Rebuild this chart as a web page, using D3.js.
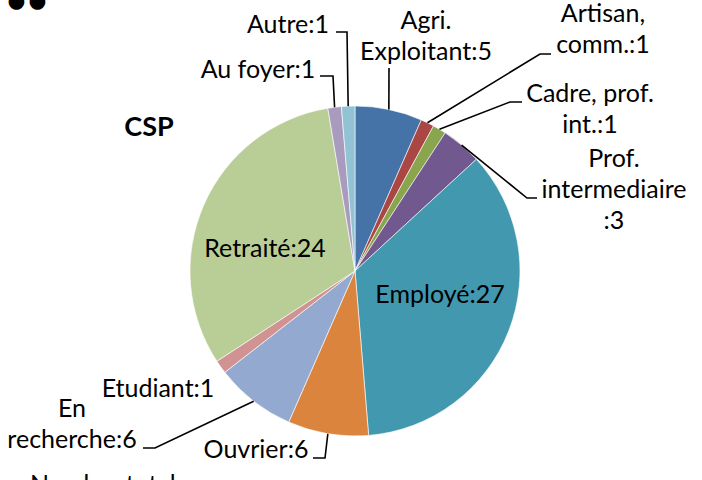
<!DOCTYPE html>
<html>
<head>
<meta charset="utf-8">
<script src="https://cdn.jsdelivr.net/npm/d3@7"></script>
<style>
  body { margin: 0; background: #fff; }
  svg text { font-family: Lato, "Open Sans", sans-serif; fill: #000; }
</style>
</head>
<body>
<script>
// données du graphique CSP
var categories = ["Agri. Exploitant", "Artisan, comm.", "Cadre, prof. int.", "Prof. intermediaire", "Employé",
                  "Ouvrier", "En recherche", "Etudiant", "Retraité", "Au foyer", "Autre"];
var values = [5, 1, 1, 3, 27, 6, 6, 1, 24, 1, 1];
// libellés coupés sur plusieurs lignes comme dans l'original
var labelLines = [["Agri.", "Exploitant"], ["Artisan,", "comm."], ["Cadre, prof.", "int."], ["Prof.", "intermediaire", ""],
                  ["Employé"], ["Ouvrier"], ["En", "recherche"], ["Etudiant"], ["Retraité"], ["Au foyer"], ["Autre"]];
var colors = ["#4572A7", "#AA4643", "#89A54E", "#71588F", "#4198AF", "#DB843D",
              "#93A9CF", "#D19392", "#B9CD96", "#A99BBD", "#92C3D4"];

var width = 702, height = 480;
var cx = 355, cy = 271, radius = 165;
var fontSize = 25, lineH = 31;

// position des étiquettes (x centre, ligne de base de la 1re ligne) + coude du trait de rappel
var layout = [
    {x: 426, y: 29, elbow: [[389, 68]]},
    {x: 603, y: 22, elbow: [[551, 54], [540, 54]]},
    {x: 590, y: 102, elbow: [[522, 102], [510, 102]]},
    {x: 614, y: 167, elbow: [[537, 198], [527, 198]]},
    {x: 440, y: 303, elbow: null},
    {x: 256, y: 458, elbow: [[313, 458], [325, 458]]},
    {x: 72, y: 417, elbow: [[143, 448], [155, 448]]},
    {x: 158, y: 397, elbow: null},
    {x: 265, y: 257, elbow: null},
    {x: 258, y: 78, elbow: [[320, 76], [333, 76]]},
    {x: 288, y: 33, elbow: [[336, 32], [347, 32]]}
];

var svg = d3.select('body').append('svg')
    .attr('width', width)
    .attr('height', height);

var pie = d3.pie().sort(null).value(function(d) { return d; });
var arcs = pie(values);

var arc = d3.arc().innerRadius(0).outerRadius(radius);
var edgeArc = d3.arc().innerRadius(radius).outerRadius(radius);

var g = svg.append('g').attr('transform', 'translate(' + cx + ',' + cy + ')');

g.selectAll('path.slice').data(arcs)
    .enter().append('path')
    .attr('class', 'slice')
    .attr('d', arc)
    .attr('fill', function(d, i) { return colors[i]; })
    .attr('stroke', '#ffffff')
    .attr('stroke-width', 0.6);

// traits de rappel
arcs.forEach(function(d, i) {
    var L = layout[i];
    if (!L.elbow) return;
    var c = edgeArc.centroid(d);
    var pts = L.elbow.concat([[c[0] + cx, c[1] + cy]]);
    svg.append('path')
        .attr('d', d3.line()(pts))
        .attr('fill', 'none')
        .attr('stroke', '#000')
        .attr('stroke-width', 1.6);
});

// étiquettes
arcs.forEach(function(d, i) {
    var L = layout[i];
    var lines = labelLines[i].slice();
    lines[lines.length - 1] += ':' + values[i];
    var t = svg.append('text')
        .attr('x', L.x)
        .attr('y', L.y)
        .attr('text-anchor', 'middle')
        .style('font-size', fontSize + 'px');
    lines.forEach(function(s, k) {
        t.append('tspan')
            .attr('x', L.x)
            .attr('y', L.y + k * lineH)
            .text(s);
    });
});

// titre
svg.append('text')
    .attr('x', 149).attr('y', 136)
    .attr('text-anchor', 'middle')
    .style('font-size', '27px')
    .style('font-weight', 'bold')
    .text('CSP');

// restes de texte coupés en haut et en bas
svg.append('text')
    .attr('x', 27).attr('y', 13)
    .attr('text-anchor', 'middle')
    .style('font-size', '36px')
    .style('font-weight', 'bold')
    .text('••');

svg.append('text')
    .attr('x', 30).attr('y', 493)
    .style('font-size', fontSize + 'px')
    .text('Nombre total');
</script>
</body>
</html>
